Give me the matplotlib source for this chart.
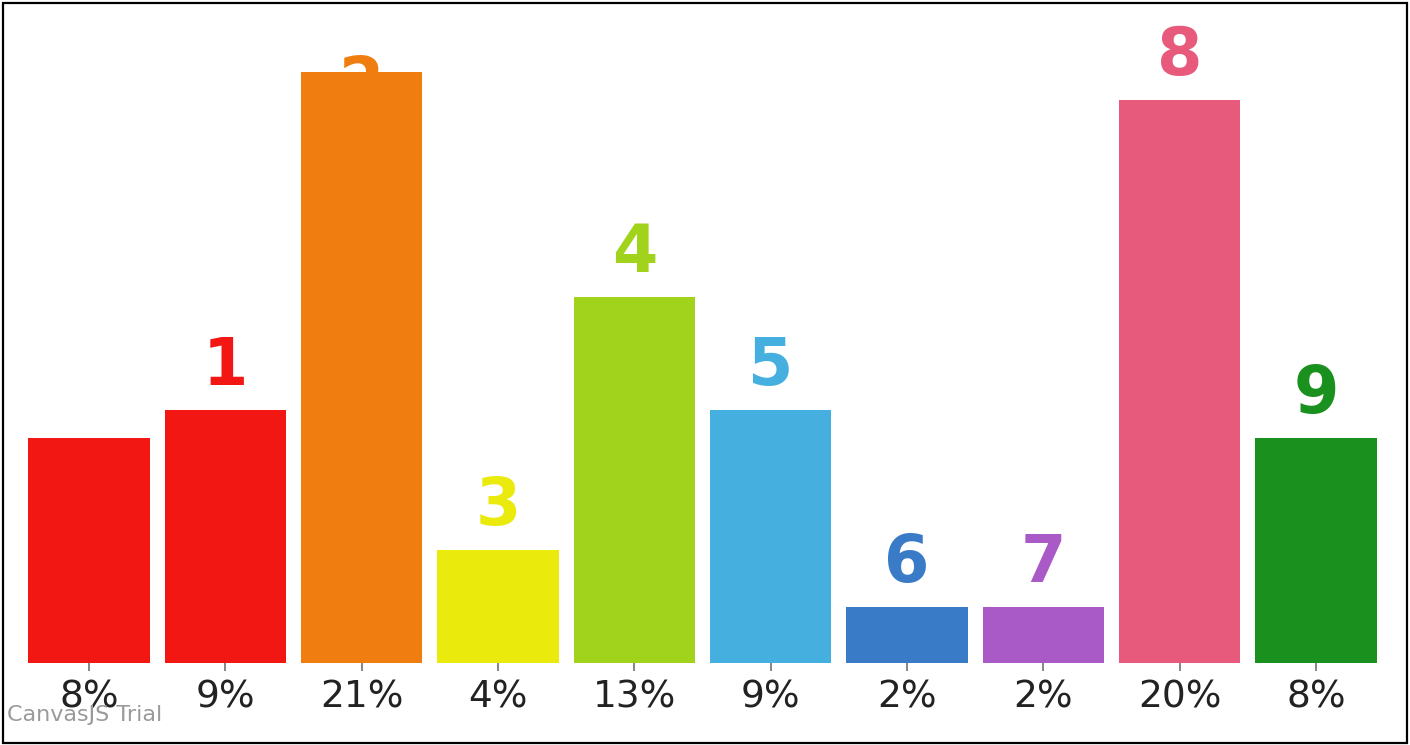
import matplotlib
matplotlib.use("Agg")
import matplotlib.pyplot as plt
from matplotlib.patches import Rectangle

plt.rcParams.update({"font.family": ["DejaVu Sans"]})

# data
tick_labels = ["8%", "9%", "21%", "4%", "13%", "9%", "2%", "2%", "20%", "8%"]
values = [8, 9, 21, 4, 13, 9, 2, 2, 20, 8]
index_labels = ["", "1", "2", "3", "4", "5", "6", "7", "8", "9"]
colors = ["#F21712", "#F21712", "#F07D10", "#EAEA0C", "#A2D31C",
          "#45B0E0", "#3A7BC8", "#A95AC6", "#E85A7C", "#1A911E"]

DPI = 100
fig = plt.figure(figsize=(14.1, 7.45), dpi=DPI)
ax = fig.add_axes([21 / 1410, 82 / 745, 1363 / 1410, 655 / 745])

x = list(range(len(values)))
ax.bar(x, values, width=0.89, color=colors, zorder=3)
ax.set_xlim(-0.5, len(values) - 0.5)
ax.set_ylim(0, 23.27)

px = 72 / DPI  # points per pixel
for i, (v, lab, c) in enumerate(zip(values, index_labels, colors)):
    if not lab:
        continue
    if v > 20.5:
        # label that does not fit above gets pushed under the bar top
        ax.annotate(lab, (i, v), xytext=(0, -32 * px), textcoords="offset points",
                    ha="center", va="baseline", fontsize=47, fontweight="bold",
                    color=c, zorder=2)
    else:
        ax.annotate(lab, (i, v), xytext=(0, 25 * px), textcoords="offset points",
                    ha="center", va="baseline", fontsize=47, fontweight="bold",
                    color=c, zorder=4)

ax.set_xticks(x)
ax.set_xticklabels(tick_labels, fontsize=27, color="#222222")
ax.tick_params(axis="x", length=8 * px, width=2 * px, color="#888888", pad=6)
ax.set_yticks([])
for s in ax.spines.values():
    s.set_visible(False)

fig.text(7 / 1410, 1 - 715 / 745, "CanvasJS Trial", fontsize=16, color="#9a9a9a",
         ha="left", va="center")

# outer frame
fig.patches.append(Rectangle((3 / 1410, 2 / 745), 1404 / 1410, 740 / 745,
                             transform=fig.transFigure, fill=False,
                             edgecolor="black", lw=1.6))

fig.savefig("out.png", dpi=DPI, facecolor="white")
